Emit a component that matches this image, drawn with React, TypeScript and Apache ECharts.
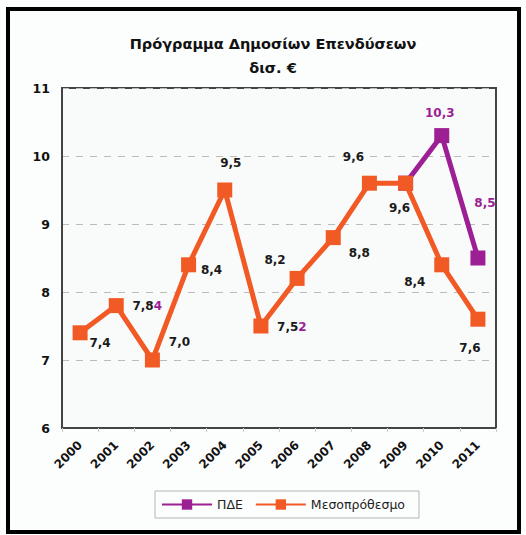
import React, { useEffect, useRef } from "react";
import * as echarts from "echarts";

const years = ["2000", "2001", "2002", "2003", "2004", "2005", "2006", "2007", "2008", "2009", "2010", "2011"];
// Full ΠΔΕ values (only 2009–2011 are drawn as a separate line; earlier ones coincide with the medium-term plan)
const pdeAll = [7.4, 7.84, 7.0, 8.4, 9.5, 7.52, 8.2, 8.8, 9.6, 9.6, 10.3, 8.5];
const pdeVisibleFrom = 9;
const medium = [7.4, 7.8, 7.0, 8.4, 9.5, 7.5, 8.2, 8.8, 9.6, 9.6, 8.4, 7.6];
const yTicks = { min: 6, max: 11, interval: 1 };

// label offsets (style only)
const mediumLabelOffsets = [
  [20, 10], [31, 0], [27, -18], [23, 5], [6, -27], [31, 1],
  [-22, -18], [26, 15], [-16, -26], [-6, 25], [-27, 17], [-8, 29],
];
const pdeLabelOffsets: Record<number, number[]> = { 10: [-2, -23], 11: [7, -55] };

const PURPLE = "#9c1f94";
const ORANGE = "#f25a25";
const FONT = "DejaVu Sans";

const fmt = (v: number) => (Number.isInteger(v) ? v.toFixed(1) : String(v)).replace(".", ",");

export default function App() {
  const ref = useRef<HTMLDivElement>(null);
  useEffect(() => {
    if (!ref.current) return;
    const chart = echarts.init(ref.current, null, { renderer: "svg" });

    const mediumData = medium.map((v, i) => {
      const a = fmt(v);
      const b = fmt(pdeAll[i]);
      const text = b.length > a.length && b.startsWith(a) ? `${a}{p|${b.slice(a.length)}}` : a;
      return {
        value: v,
        label: {
          show: true,
          position: "inside",
          offset: mediumLabelOffsets[i],
          formatter: text,
        },
      };
    });

    const pdeData = pdeAll.map((v, i) => {
      if (i < pdeVisibleFrom) return null;
      const off = pdeLabelOffsets[i];
      return {
        value: v,
        label: off
          ? { show: true, position: "inside", offset: off, formatter: fmt(v) }
          : { show: false },
      };
    });

    const labelBase = {
      fontFamily: FONT,
      fontWeight: "bold",
      fontSize: 12,
      align: "center",
      verticalAlign: "middle",
    };

    chart.setOption({
      animation: false,
      backgroundColor: "#fcfdfd",
      title: {
        text: "Πρόγραμμα Δημοσίων Επενδύσεων\nδισ. €",
        left: 268,
        textAlign: "center",
        top: 27,
        textStyle: {
          fontFamily: FONT,
          fontWeight: "bold",
          fontSize: 14.5,
          lineHeight: 24,
          color: "#111",
        },
      },
      graphic: [
        {
          type: "rect",
          shape: { x: 8, y: 9, width: 511, height: 523 },
          style: { fill: "none", stroke: "#000", lineWidth: 4 },
          z: 100,
        },
      ],
      legend: {
        left: 155,
        top: 491,
        orient: "horizontal",
        itemWidth: 50,
        itemHeight: 13,
        itemGap: 12,
        padding: [7, 14, 7, 6],
        borderColor: "#b5b5b5",
        borderWidth: 1,
        textStyle: { fontFamily: FONT, fontSize: 12.5, color: "#222" },
        data: ["ΠΔΕ", "Μεσοπρόθεσμο"],
      },
      grid: {
        left: 62,
        right: 30,
        top: 88,
        bottom: 107,
        show: true,
        borderColor: "#444",
        borderWidth: 2,
        backgroundColor: "#f9fbfb",
      },
      xAxis: {
        type: "category",
        data: years,
        boundaryGap: true,
        axisLine: { show: true, lineStyle: { color: "#444", width: 2 } },
        axisTick: { show: true, length: 4, lineStyle: { color: "#ccc" } },
        axisLabel: {
          rotate: 45,
          margin: 15,
          fontFamily: FONT,
          fontWeight: "bold",
          fontSize: 12,
          color: "#111",
        },
      },
      yAxis: {
        type: "value",
        min: yTicks.min,
        max: yTicks.max,
        interval: yTicks.interval,
        axisLine: { show: true, lineStyle: { color: "#444", width: 2 } },
        axisTick: { show: false },
        axisLabel: {
          margin: 12,
          fontFamily: FONT,
          fontWeight: "bold",
          fontSize: 12.5,
          color: "#111",
        },
        splitLine: { show: true, lineStyle: { color: "#bbb", type: [7, 7], width: 1 } },
      },
      series: [
        {
          name: "ΠΔΕ",
          type: "line",
          data: pdeData,
          symbol: "rect",
          symbolSize: 15,
          lineStyle: { color: PURPLE, width: 5 },
          itemStyle: { color: PURPLE },
          label: { ...labelBase, color: PURPLE },
          z: 2,
        },
        {
          name: "Μεσοπρόθεσμο",
          type: "line",
          data: mediumData,
          symbol: "rect",
          symbolSize: 15,
          lineStyle: { color: ORANGE, width: 5 },
          itemStyle: { color: ORANGE },
          label: {
            ...labelBase,
            color: "#1a1a1a",
            rich: { p: { ...labelBase, color: PURPLE } },
          },
          z: 3,
        },
      ],
    });
    return () => chart.dispose();
  }, []);
  return (
    <div
      ref={ref}
      style={{ position: "fixed", left: 0, top: 0, width: 526, height: 535 }}
    />
  );
}
